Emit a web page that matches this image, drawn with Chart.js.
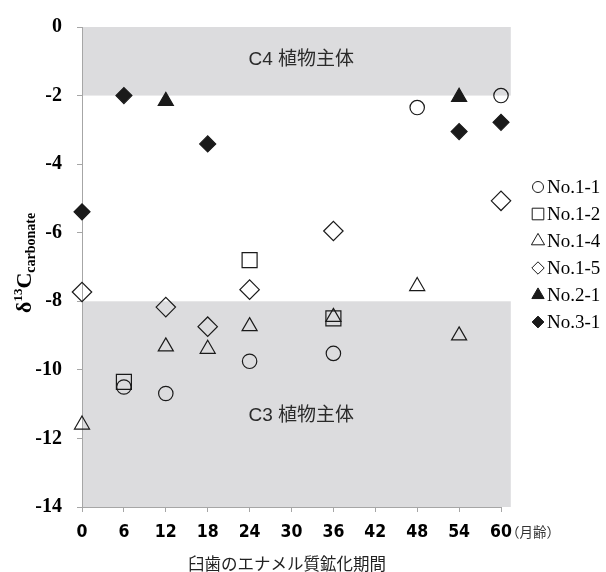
<!DOCTYPE html>
<html>
<head>
<meta charset="utf-8">
<script src="https://cdn.jsdelivr.net/npm/chart.js@4.4.1/dist/chart.umd.min.js"></script>
<style>
  html, body { margin: 0; padding: 0; background: #fff; }
  #wrap { width: 606px; height: 572px; }
</style>
</head>
<body>
<div id="wrap"><canvas id="chart"></canvas></div>
<script>
/* δ13C carbonate vs. enamel mineralisation age */

// ticks
const xTicks = [0, 6, 12, 18, 24, 30, 36, 42, 48, 54, 60];
const yTicks = [0, -2, -4, -6, -8, -10, -12, -14];

// shaded bands (value ranges)
const c4Band = [0, -2];
const c3Band = [-8, -14];

// series
const no11Months = [6, 12, 24, 36, 48, 60];
const no11Values = [-10.5, -10.69, -9.75, -9.52, -2.35, -2.0];

const no12Months = [6, 24, 36];
const no12Values = [-10.35, -6.8, -8.5];

const no14Months = [0, 12, 18, 24, 36, 48, 54];
const no14Values = [-11.6, -9.32, -9.39, -8.73, -8.46, -7.56, -9.0];

const no15Months = [0, 12, 18, 24, 36, 60];
const no15Values = [-7.73, -8.17, -8.74, -7.66, -5.95, -5.07];

const no21Months = [12, 54];
const no21Values = [-2.16, -2.04];

const no31Months = [0, 6, 18, 54, 60];
const no31Values = [-5.39, -2.0, -3.41, -3.05, -2.78];

const ink = "#1a1a1a";
const none = "rgba(0,0,0,0)";
const grayBand = "#dcdcde";
const axisGray = "#a6a6a6";
const serif = "'Liberation Serif', 'Times New Roman', serif";
const narrow = "'DejaVu Sans Condensed', 'DejaVu Sans', sans-serif";
const jp = "'Noto Sans CJK JP', 'Noto Sans', sans-serif";
const latinJp = "'Liberation Sans', 'Noto Sans CJK JP', sans-serif";

const pts = (xs, ys) => xs.map((x, i) => ({ x, y: ys[i] }));

const series = [
  { label: "No.1-1", data: pts(no11Months, no11Values), pointStyle: "circle",   radius: 7.2,  fill: none, legendR: 5.5 },
  { label: "No.1-2", data: pts(no12Months, no12Values), pointStyle: "rect",     radius: 10.6, fill: none, legendR: 8.2 },
  { label: "No.1-4", data: pts(no14Months, no14Values), pointStyle: "triangle", radius: 8.7,  fill: none, legendR: 7.6 },
  { label: "No.1-5", data: pts(no15Months, no15Values), pointStyle: "rectRot",  radius: 9.7,  fill: none, legendR: 6.2 },
  { label: "No.2-1", data: pts(no21Months, no21Values), pointStyle: "triangle", radius: 8.7,  fill: ink,  legendR: 7.1 },
  { label: "No.3-1", data: pts(no31Months, no31Values), pointStyle: "rectRot",  radius: 8,    fill: ink,  legendR: 5.9 },
];

// gray C4 / C3 bands + their captions
const bandPlugin = {
  id: "bands",
  beforeDraw(chart) {
    const { ctx, scales: { x, y } } = chart;
    const left = x.getPixelForValue(0);
    const right = x.getPixelForValue(61.4);
    ctx.save();
    ctx.fillStyle = grayBand;
    [c4Band, c3Band].forEach(([a, b]) => {
      const top = y.getPixelForValue(a);
      ctx.fillRect(left, top, right - left, y.getPixelForValue(b) - top);
    });
    ctx.fillStyle = "#2a2a2a";
    ctx.font = `19px ${latinJp}`;
    ctx.textAlign = "center";
    ctx.textBaseline = "middle";
    ctx.fillText("C4 植物主体", x.getPixelForValue(31.4), y.getPixelForValue(-0.95));
    ctx.fillText("C3 植物主体", x.getPixelForValue(31.4), y.getPixelForValue(-11.35));
    ctx.restore();
  },
};

// axis titles, unit and legend
const textPlugin = {
  id: "texts",
  afterDraw(chart) {
    const { ctx, scales: { x } } = chart;
    ctx.save();

    // x unit after the last tick
    ctx.fillStyle = "#333";
    ctx.font = `13.5px ${jp}`;
    ctx.textBaseline = "middle";
    ctx.textAlign = "left";
    ctx.fillText("（月齢）", x.getPixelForValue(60) + 5, 532);

    // x title
    ctx.font = `16.5px ${jp}`;
    ctx.textAlign = "center";
    ctx.fillStyle = "#222";
    ctx.fillText("臼歯のエナメル質鉱化期間", 287, 564);

    // y title: δ13C carbonate, rotated
    ctx.save();
    ctx.translate(31, 313);
    ctx.rotate(-Math.PI / 2);
    ctx.textAlign = "left";
    ctx.textBaseline = "alphabetic";
    ctx.fillStyle = "#000";
    let cx = 0;
    ctx.font = `bold 22px ${serif}`;
    ctx.fillText("δ", cx, 0); cx += ctx.measureText("δ").width;
    ctx.font = `bold 13px ${serif}`;
    ctx.fillText("13", cx, -9); cx += ctx.measureText("13").width;
    ctx.font = `bold 22px ${serif}`;
    ctx.fillText("C", cx, 0); cx += ctx.measureText("C").width;
    ctx.font = `bold 14px ${serif}`;
    ctx.fillText("carbonate", cx, 4);
    ctx.restore();

    // legend
    const draw = Chart.helpers && Chart.helpers.drawPoint;
    ctx.font = `19px ${serif}`;
    ctx.textAlign = "left";
    ctx.textBaseline = "middle";
    series.forEach((s, i) => {
      const ly = 187 + i * 27;
      ctx.fillStyle = s.fill;
      ctx.strokeStyle = ink;
      ctx.lineWidth = 1;
      if (draw) draw(ctx, { pointStyle: s.pointStyle, radius: s.legendR, rotation: 0, borderWidth: 1 }, 538, ly);
      ctx.fillStyle = "#000";
      ctx.fillText(s.label, 547, ly + 1);
    });
    ctx.restore();
  },
};

new Chart(document.getElementById("chart"), {
  type: "scatter",
  data: {
    datasets: series.map(s => ({
      label: s.label,
      data: s.data,
      pointStyle: s.pointStyle,
      pointRadius: s.radius,
      pointHoverRadius: s.radius,
      pointBackgroundColor: s.fill,
      pointBorderColor: ink,
      pointBorderWidth: 1.2,
      clip: false,
    })),
  },
  options: {
    responsive: true,
    maintainAspectRatio: false,
    animation: false,
    devicePixelRatio: 1,
    layout: { padding: { top: 16, right: 105, bottom: 0, left: 0 } },
    plugins: {
      legend: { display: false },
      tooltip: { enabled: false },
    },
    scales: {
      x: {
        type: "linear",
        min: 0, max: 60,
        afterBuildTicks: s => { s.ticks = xTicks.map(v => ({ value: v })); },
        afterFit: s => { s.height = 65; },
        grid: { drawOnChartArea: false, tickLength: 5, color: axisGray },
        border: { color: axisGray, width: 1 },
        ticks: { autoSkip: false, maxRotation: 0, padding: 10, color: "#000", font: { family: narrow, size: 17.5, weight: "bold" } },
      },
      y: {
        type: "linear",
        min: -14, max: 0,
        afterBuildTicks: s => { s.ticks = yTicks.map(v => ({ value: v })); },
        afterFit: s => { s.width = 82; },
        grid: { drawOnChartArea: false, tickLength: 5, color: axisGray },
        border: { color: axisGray, width: 1 },
        ticks: { padding: 15, color: "#000", font: { family: serif, size: 20, weight: "bold" }, callback: v => String(v) },
      },
    },
  },
  plugins: [bandPlugin, textPlugin],
});
</script>
</body>
</html>
